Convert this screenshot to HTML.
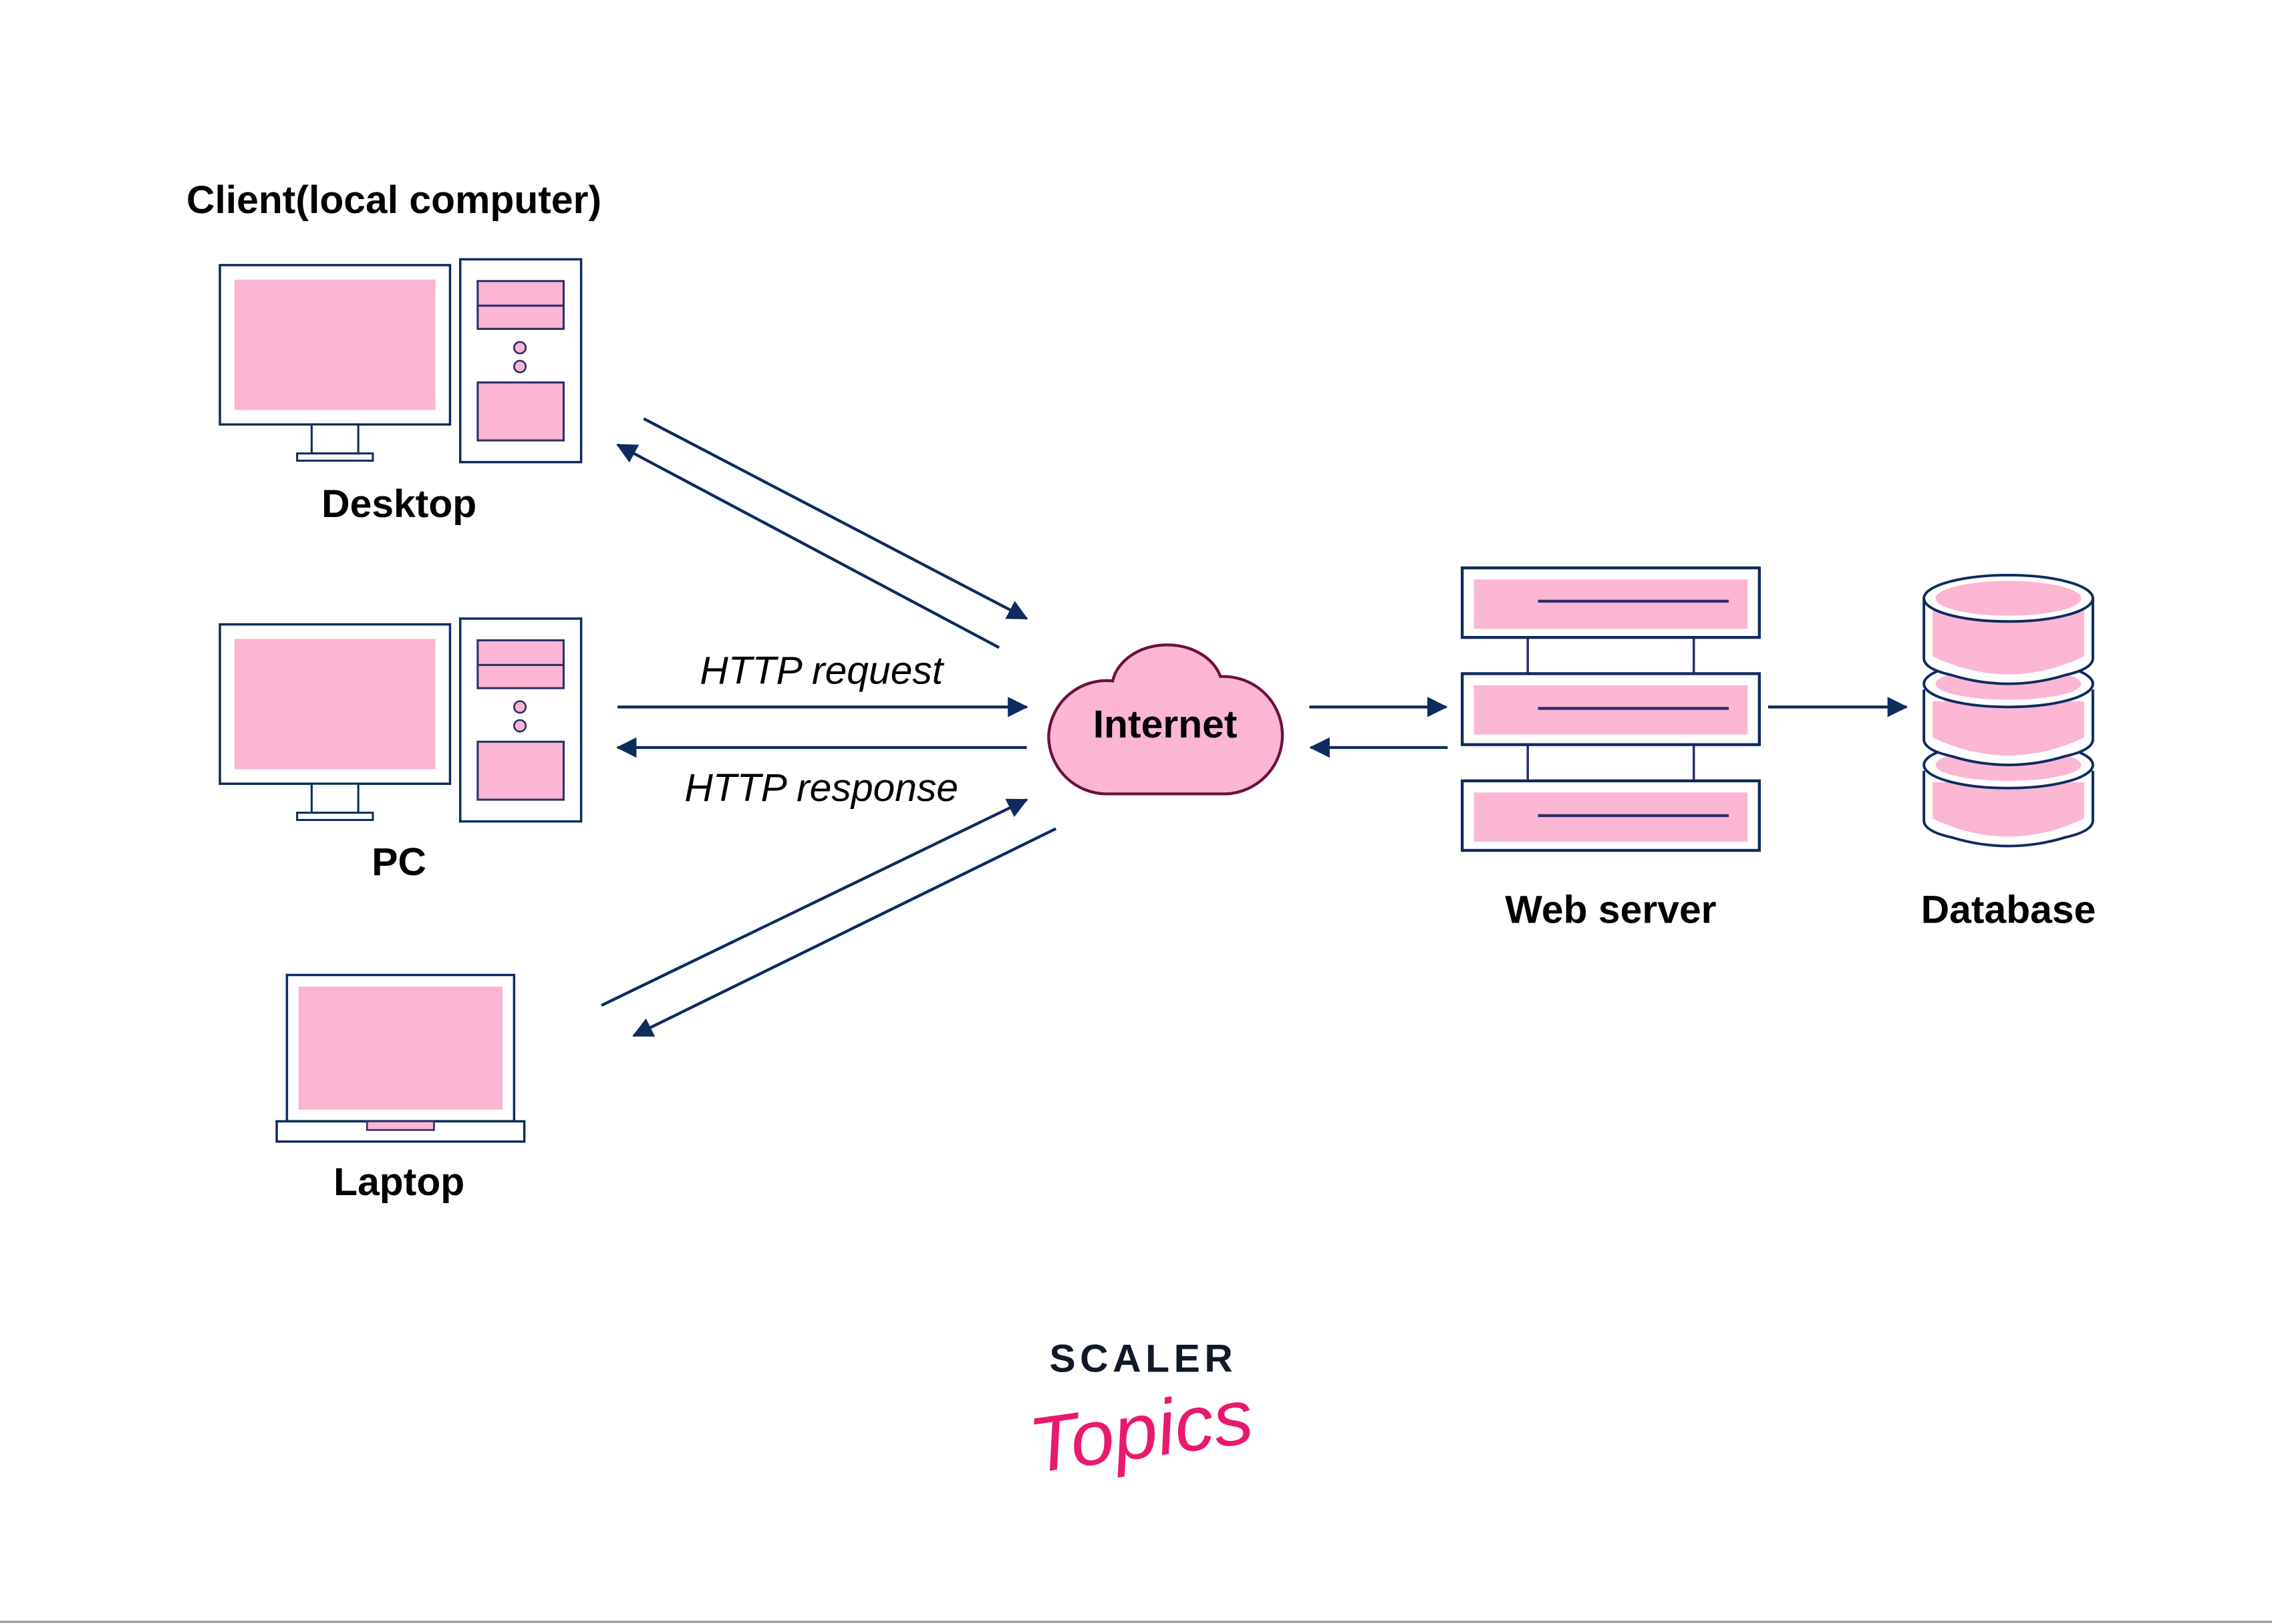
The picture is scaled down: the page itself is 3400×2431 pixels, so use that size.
<!DOCTYPE html>
<html><head><meta charset="utf-8"><style>
html,body{margin:0;padding:0;background:#fff;}
svg{display:block;}
text{font-family:"Liberation Sans","DejaVu Sans",sans-serif;}
</style></head><body>
<svg width="3400" height="2431" viewBox="0 0 1560 1121" preserveAspectRatio="none" xmlns="http://www.w3.org/2000/svg">
<defs>
<marker id="ah2" markerWidth="14" markerHeight="14" refX="13" refY="7" orient="auto" markerUnits="userSpaceOnUse" viewBox="0 0 14 14">
<path d="M0,0 L14,7 L0,14 z" fill="#0d2b5e"/></marker>
<g id="desk">
<rect x="151" y="183" width="158" height="110" fill="#fff" stroke="#0d2b5e" stroke-width="1.6"/>
<rect x="161" y="193" width="138" height="90" fill="#fbb6d4"/>
<rect x="214" y="293" width="32" height="20" fill="#fff" stroke="#0d2b5e" stroke-width="1.4"/>
<rect x="204" y="313" width="52" height="5" fill="#fff" stroke="#0d2b5e" stroke-width="1.4"/>
<rect x="316" y="179" width="83" height="140" fill="#fff" stroke="#0d2b5e" stroke-width="1.6"/>
<rect x="328" y="194" width="59" height="33" fill="#fbb6d4" stroke="#2b2f6b" stroke-width="1.4"/>
<line x1="328" y1="211" x2="387" y2="211" stroke="#2b2f6b" stroke-width="1.4"/>
<circle cx="357" cy="240" r="4" fill="#fbb6d4" stroke="#2b2f6b" stroke-width="1.2"/>
<circle cx="357" cy="253" r="4" fill="#fbb6d4" stroke="#2b2f6b" stroke-width="1.2"/>
<rect x="328" y="264" width="59" height="40" fill="#fbb6d4" stroke="#2b2f6b" stroke-width="1.4"/>
</g>
</defs>
<rect width="1560" height="1121" fill="#fff"/>
<text x="128" y="147" font-size="27" font-weight="bold" fill="#000">Client(local computer)</text>
<use href="#desk"/>
<text x="274" y="357" font-size="27" font-weight="bold" text-anchor="middle" fill="#000">Desktop</text>
<use href="#desk" transform="translate(0,248)"/>
<text x="274" y="604" font-size="27" font-weight="bold" text-anchor="middle" fill="#000">PC</text>
<rect x="197" y="673" width="156" height="101" fill="#fff" stroke="#0d2b5e" stroke-width="1.6"/>
<rect x="205" y="681" width="140" height="85" fill="#fbb6d4"/>
<rect x="190" y="774" width="170" height="14" fill="#fff" stroke="#0d2b5e" stroke-width="1.6"/>
<rect x="252" y="774" width="46" height="6" fill="#fbb6d4" stroke="#2b2f6b" stroke-width="1.2"/>
<text x="274" y="825" font-size="27" font-weight="bold" text-anchor="middle" fill="#000">Laptop</text>
<g stroke="#0d2b5e" stroke-width="2" fill="none">
<line x1="442" y1="289" x2="705" y2="427" marker-end="url(#ah2)"/>
<line x1="686" y1="447" x2="424" y2="307" marker-end="url(#ah2)"/>
<line x1="424" y1="488" x2="705" y2="488" marker-end="url(#ah2)"/>
<line x1="705" y1="516" x2="424" y2="516" marker-end="url(#ah2)"/>
<line x1="413" y1="694" x2="705" y2="552" marker-end="url(#ah2)"/>
<line x1="725" y1="572" x2="435" y2="715" marker-end="url(#ah2)"/>
<line x1="899" y1="488" x2="993" y2="488" marker-end="url(#ah2)"/>
<line x1="994" y1="516" x2="900" y2="516" marker-end="url(#ah2)"/>
<line x1="1214" y1="488" x2="1309" y2="488" marker-end="url(#ah2)"/>
</g>
<text x="564" y="472" font-size="27" font-style="italic" text-anchor="middle" fill="#000">HTTP request</text>
<text x="564" y="553" font-size="27" font-style="italic" text-anchor="middle" fill="#000">HTTP response</text>
<path d="M760,548 H842 A38,38 0 0 0 838,467 A38,30 0 0 0 764,470 A40,40 0 0 0 720,508 A40,40 0 0 0 760,548 Z" fill="#fbb6d4" stroke="#6b1040" stroke-width="2"/>
<text x="800" y="509" font-size="27" font-weight="bold" text-anchor="middle" fill="#000">Internet</text>
<g stroke="#2b2f6b" stroke-width="1.6">
<line x1="1049" y1="440" x2="1049" y2="465"/><line x1="1163" y1="440" x2="1163" y2="465"/>
<line x1="1049" y1="514" x2="1049" y2="539"/><line x1="1163" y1="514" x2="1163" y2="539"/>
</g>
<rect x="1004" y="392" width="204" height="48" fill="#fff" stroke="#0d2b5e" stroke-width="2"/>
<rect x="1012" y="400" width="188" height="34" fill="#fbb6d4"/>
<line x1="1056" y1="415" x2="1187" y2="415" stroke="#2b2f6b" stroke-width="2"/>
<rect x="1004" y="465" width="204" height="49" fill="#fff" stroke="#0d2b5e" stroke-width="2"/>
<rect x="1012" y="473" width="188" height="34" fill="#fbb6d4"/>
<line x1="1056" y1="489" x2="1187" y2="489" stroke="#2b2f6b" stroke-width="2"/>
<rect x="1004" y="539" width="204" height="48" fill="#fff" stroke="#0d2b5e" stroke-width="2"/>
<rect x="1012" y="547" width="188" height="34" fill="#fbb6d4"/>
<line x1="1056" y1="563" x2="1187" y2="563" stroke="#2b2f6b" stroke-width="2"/>
<text x="1106" y="637" font-size="27" font-weight="bold" text-anchor="middle" fill="#000">Web server</text>
<g stroke="#0d2b5e" stroke-width="1.8">
<path d="M1321,532 V567 Q1322,574 1340,578 Q1379,590 1418,578 Q1436,574 1437,567 V532" fill="#fff"/>
<path d="M1327,540 V565 Q1379,590 1431,565 V540 Z" fill="#fbb6d4" stroke="none"/>
<ellipse cx="1379" cy="528" rx="58" ry="16" fill="#fff"/>
<ellipse cx="1379" cy="528" rx="50" ry="11" fill="#fbb6d4" stroke="none"/>
<path d="M1321,476 V511 Q1322,518 1340,522 Q1379,534 1418,522 Q1436,518 1437,511 V476" fill="#fff"/>
<path d="M1327,484 V509 Q1379,534 1431,509 V484 Z" fill="#fbb6d4" stroke="none"/>
<ellipse cx="1379" cy="472" rx="58" ry="16" fill="#fff"/>
<ellipse cx="1379" cy="472" rx="50" ry="11" fill="#fbb6d4" stroke="none"/>
<path d="M1321,413 V455 Q1322,462 1340,466 Q1379,478 1418,466 Q1436,462 1437,455 V413" fill="#fff"/>
<path d="M1327,420 V453 Q1379,478 1431,453 V420 Z" fill="#fbb6d4" stroke="none"/>
<ellipse cx="1379" cy="413" rx="58" ry="16" fill="#fff"/>
<ellipse cx="1379" cy="413" rx="50" ry="12" fill="#fbb6d4" stroke="none"/>
</g>
<text x="1379" y="637" font-size="27" font-weight="bold" text-anchor="middle" fill="#000">Database</text>
<text x="785" y="947" font-size="27" font-weight="bold" letter-spacing="3" text-anchor="middle" fill="#111827">SCALER</text>
<text x="0" y="0" font-size="54" font-style="italic" font-family="'Liberation Serif',serif" text-anchor="middle" fill="#e8196f" transform="translate(786,1006) rotate(-8)">Topics</text>
<line x1="0" y1="1119.5" x2="1560" y2="1119.5" stroke="#999" stroke-width="1.5"/>
</svg>
</body></html>
